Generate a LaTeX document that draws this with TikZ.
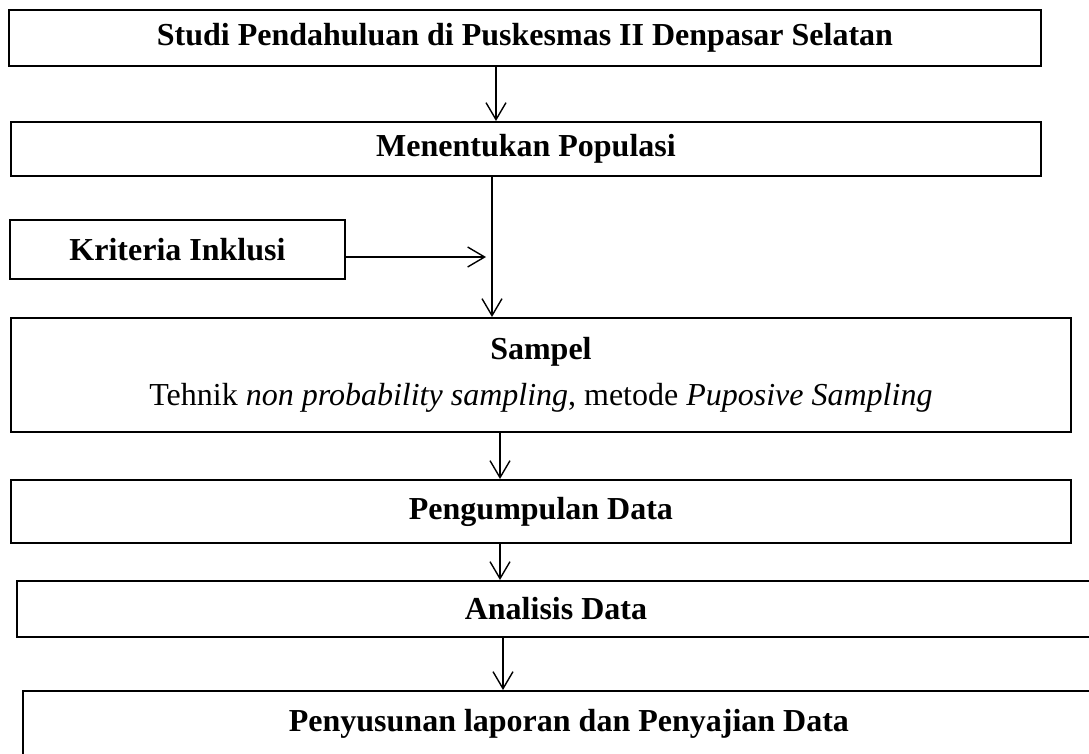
\documentclass[tikz,border=0pt]{standalone}
\usepackage{fontspec}
\setmainfont{Liberation Serif}
\usetikzlibrary{arrows.meta}

\begin{document}
\begin{tikzpicture}[x=1pt,y=-1pt,
        box/.style={draw,line width=1.9pt,anchor=north west,inner sep=0pt,align=center,
            font=\fontsize{32}{46}\selectfont\bfseries},
        arr/.style={line width=1.4pt,-{Straight Barb[length=17pt,width=20pt,line width=1.4pt]}}]
        \clip (0,0) rectangle (1089,753);
        % boxes
        \node[box,minimum width=1032pt,minimum height=56pt] (studi) at (8,9)
            {Studi Pendahuluan di Puskesmas II Denpasar Selatan};
        \node[box,minimum width=1030pt,minimum height=54pt] (populasi) at (10,121)
            {Menentukan Populasi};
        \node[box,minimum width=335pt,minimum height=59pt] (kriteria) at (9,219)
            {Kriteria Inklusi};
        \node[box,minimum width=1060pt,minimum height=114pt] (sampel) at (10,317)
            {Sampel\\ {\mdseries Tehnik \textit{non probability sampling}, metode \textit{Puposive Sampling}}};
        \node[box,minimum width=1060pt,minimum height=63pt] (kumpul) at (10,479)
            {Pengumpulan Data};
        \node[box,minimum width=1078pt,minimum height=56pt] (analisis) at (16,580)
            {Analisis Data};
        \node[box,minimum width=1092pt,minimum height=66pt] (laporan) at (22,690)
            {Penyusunan laporan dan Penyajian Data};

        % arrows
        \coordinate (a1) at (496,0);
        \coordinate (a2) at (492,0);
        \coordinate (a3) at (500,0);
        \coordinate (a4) at (503,0);
        \coordinate (inkl) at (486,257);
        \draw[arr] (studi.south -| a1) -- (populasi.north -| a1);
        \draw[arr] (populasi.south -| a2) -- (sampel.north -| a2);
        \draw[arr] (kriteria.east |- inkl) -- (inkl);
        \draw[arr] (sampel.south -| a3) -- (kumpul.north -| a3);
        \draw[arr] (kumpul.south -| a3) -- (analisis.north -| a3);
        \draw[arr] (analisis.south -| a4) -- (laporan.north -| a4);
    \end{tikzpicture}
\end{document}
